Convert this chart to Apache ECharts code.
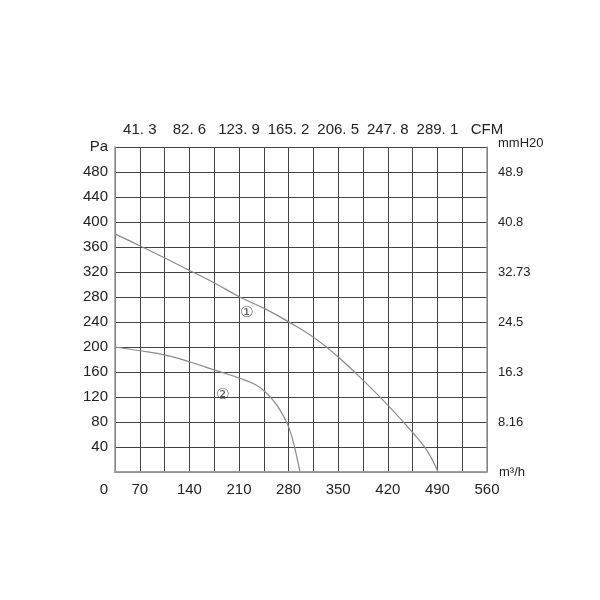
<!DOCTYPE html>
<html><head><meta charset="utf-8">
<script src="https://cdn.jsdelivr.net/npm/echarts@6/dist/echarts.min.js"></script>
<style>html,body{margin:0;padding:0;background:#fff}#c{width:600px;height:600px}</style>
</head><body><div id="c"></div>
<script>
// Flow (m3/h) ticks shown on bottom axis
var flowTicks = [70, 140, 210, 280, 350, 420, 490, 560];
// CFM labels on top axis (same positions)
var cfmLabels = ['41. 3', '82. 6', '123. 9', '165. 2', '206. 5', '247. 8', '289. 1', 'CFM'];
// Pressure (Pa) ticks mapped to mmH2O labels on right axis
var paForMm = [480, 400, 320, 240, 160, 80];
var mmLabels = ['48.9', '40.8', '32.73', '24.5', '16.3', '8.16'];

// Curve 1: [flow m3/h, pressure Pa]
var curve1 = [[35,381],[70,362],[106,342],[141,322],[176,302],[211,280],[247,261],[282,239],[317,214],[350,184],[385,147],[420,107],[456,62],[475,35],[491,0]];
// Curve 2
var curve2 = [[35,200],[70,194],[106,187],[141,176],[176,163],[211,150],[233,140],[247,128],[258,115],[268,99],[279,75],[286,51],[292,22],[296,0]];
// Curve labels
var curveLabels = [[221,254,'①'],[187,123,'②']];

var font = '"Liberation Sans", Arial, sans-serif';
var chart = echarts.init(document.getElementById('c'));
chart.setOption({
  animation: false,
  backgroundColor: '#fff',
  grid: {left: 115, right: 113, top: 147, bottom: 128, containLabel: false},
  xAxis: [{
    type: 'value', min: 35, max: 560, interval: 35, position: 'bottom',
    name: 'm³/h', nameLocation: 'end', nameGap: 12,
    nameTextStyle: {color: '#222', fontSize: 13, fontFamily: font, verticalAlign: 'middle'},
    axisLine: {show: true, lineStyle: {color: '#999', width: 1.5}},
    axisTick: {show: false},
    splitLine: {show: true, lineStyle: {color: '#444', width: 1}},
    axisLabel: {
      interval: 0, margin: 10, color: '#222', fontSize: 15, fontFamily: font, showMinLabel: true, showMaxLabel: true,
      formatter: function (v) {
        if (v === 35) return '{z|0}';
        return flowTicks.indexOf(v) >= 0 ? String(v) : '';
      },
      rich: {z: {fontSize: 15, fontFamily: font, color: '#222', padding: [0, 22, 0, 0]}}
    }
  }, {
    type: 'value', min: 35, max: 560, interval: 35, position: 'top',
    axisLine: {show: true, lineStyle: {color: '#999', width: 1.5}},
    axisTick: {show: false},
    splitLine: {show: false},
    axisLabel: {
      interval: 0, margin: 10, color: '#222', fontSize: 15, fontFamily: font, showMaxLabel: true,
      formatter: function (v) {
        var i = flowTicks.indexOf(v);
        return i >= 0 ? cfmLabels[i] : '';
      }
    }
  }],
  yAxis: [{
    type: 'value', min: 0, max: 520, interval: 40, position: 'left',
    axisLine: {show: true, lineStyle: {color: '#999', width: 1.5}},
    axisTick: {show: false},
    splitLine: {show: true, lineStyle: {color: '#444', width: 1}},
    axisLabel: {
      margin: 7, color: '#222', fontSize: 15, fontFamily: font, showMaxLabel: true,
      formatter: function (v) {
        if (v === 0) return '';
        if (v === 520) return 'Pa';
        return String(v);
      }
    }
  }, {
    type: 'value', min: 0, max: 520, interval: 40, position: 'right',
    axisLine: {show: true, lineStyle: {color: '#999', width: 1.5}},
    axisTick: {show: false},
    splitLine: {show: false},
    axisLabel: {
      margin: 11, color: '#222', fontSize: 13, fontFamily: font, showMaxLabel: true,
      formatter: function (v) {
        if (v === 520) return '{t|mmH20}';
        var i = paForMm.indexOf(v);
        return i >= 0 ? mmLabels[i] : '';
      },
      rich: {t: {fontSize: 13, fontFamily: font, color: '#222', padding: [0, 0, 8, 0]}}
    }
  }],
  series: [{
    type: 'line', data: curve1, smooth: 0.4, showSymbol: false,
    lineStyle: {color: '#8a8a8a', width: 1.2}, xAxisIndex: 0, yAxisIndex: 0
  }, {
    type: 'line', data: curve2, smooth: 0.4, showSymbol: false,
    lineStyle: {color: '#8a8a8a', width: 1.2}, xAxisIndex: 0, yAxisIndex: 0
  }, {
    type: 'scatter', symbolSize: 0, xAxisIndex: 0, yAxisIndex: 0,
    data: curveLabels.map(function (d) { return [d[0], d[1], d[2]]; }),
    label: {show: true, position: 'inside', formatter: function (p) { return p.value[2]; },
      fontSize: 15, color: '#333', fontFamily: '"DejaVu Sans", "Noto Sans CJK SC", sans-serif'}
  }]
});
</script></body></html>
